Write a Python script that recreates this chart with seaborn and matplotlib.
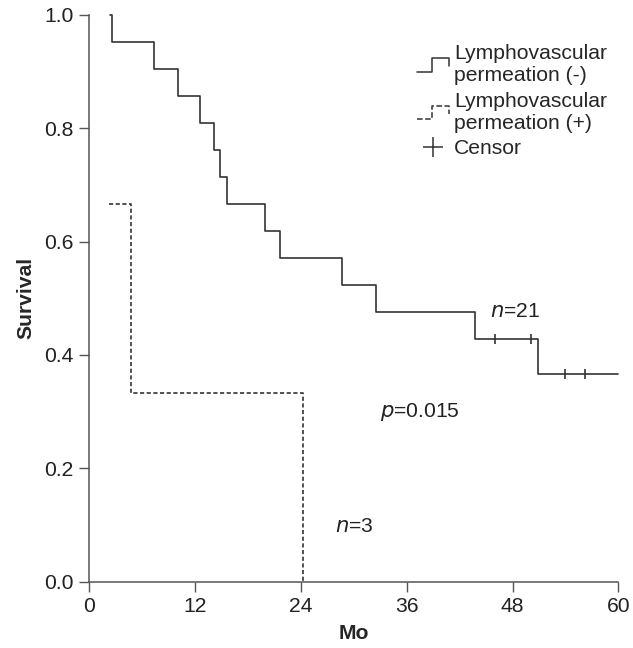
import numpy as np
import pandas as pd
import seaborn as sns
import matplotlib.pyplot as plt
from matplotlib.lines import Line2D
from matplotlib.legend_handler import HandlerBase

# %% data (months, survival)
neg_time = [2.4, 2.6, 7.4, 10.1, 12.6, 14.2, 14.9, 15.6, 19.9, 21.7, 28.7, 32.5, 43.7, 50.9, 60.0]
neg_surv = [1.0, 0.952, 0.905, 0.857, 0.810, 0.762, 0.714, 0.667, 0.619, 0.571, 0.524, 0.476, 0.429, 0.367, 0.367]
pos_time = [2.3, 4.8, 24.3]
pos_surv = [0.667, 0.333, 0.0]
cens_time = [46.0, 50.1, 53.9, 56.2]
cens_surv = [0.429, 0.429, 0.367, 0.367]
xticks = [0, 12, 24, 36, 48, 60]
yticks = [0.0, 0.2, 0.4, 0.6, 0.8, 1.0]

neg = pd.DataFrame({"Mo": neg_time, "Survival": neg_surv})
pos = pd.DataFrame({"Mo": pos_time, "Survival": pos_surv})
cens = pd.DataFrame({"Mo": cens_time, "Survival": cens_surv})

# %% style
sns.set_style("ticks")
plt.rcParams["font.family"] = ["Liberation Sans", "DejaVu Sans"]
LC = "#333333"
AC = "#555555"
FS = 15.2

fig, ax = plt.subplots(figsize=(6.33, 6.48), dpi=100)
fig.subplots_adjust(left=0.1406, right=0.977, bottom=0.1023, top=0.977)

sns.lineplot(data=neg, x="Mo", y="Survival", estimator=None, sort=False,
             drawstyle="steps-post", color=LC, lw=1.2, clip_on=False, ax=ax)
sns.lineplot(data=pos, x="Mo", y="Survival", estimator=None, sort=False,
             drawstyle="steps-post", color=LC, lw=1.2, ls=(0, (2.5, 1.5)),
             clip_on=False, ax=ax)
ax.plot(cens["Mo"], cens["Survival"], ls="none", marker="|", ms=7, mew=1.2, color=LC)

ax.set_xlim(0, 60)
ax.set_ylim(0, 1)
ax.set_xticks(xticks)
ax.set_yticks(yticks)
ax.set_yticklabels([f"{v:.1f}" for v in yticks])
ax.tick_params(labelsize=FS, length=7, width=1, color=AC, pad=4, labelcolor="#222222")
for s in ["left", "bottom"]:
    ax.spines[s].set_color(AC)
    ax.spines[s].set_linewidth(1.1)
sns.despine(ax=ax)
ax.set_xlabel("Mo", fontsize=FS, fontweight="bold", labelpad=6)
ax.set_ylabel("Survival", fontsize=FS, fontweight="bold", labelpad=6)

# %% annotations
ax.text(45.4, 0.476, r"$n$=21", fontsize=FS, va="center", ha="left",
        color="#222222", math_fontfamily="dejavusans")
ax.text(33.0, 0.30, r"$p$=0.015", fontsize=FS, va="center", ha="left",
        color="#222222", math_fontfamily="dejavusans")
ax.text(27.9, 0.097, r"$n$=3", fontsize=FS, va="center", ha="left",
        color="#222222", math_fontfamily="dejavusans")


# %% legend with step-shaped handles
class StepHandler(HandlerBase):
    def create_artists(self, legend, orig_handle, xdescent, ydescent,
                       width, height, fontsize, trans):
        x0 = -xdescent
        xm = x0 + 0.48 * width
        x1 = x0 + width
        y0 = -ydescent + 0.05 * height
        y1 = -ydescent + 0.95 * height
        line = Line2D([x0, xm, xm, x1, x1], [y0, y0, y1, y1, y0 + 0.35 * height],
                      color=orig_handle.get_color(), lw=1.1,
                      ls=orig_handle.get_linestyle())
        line.set_transform(trans)
        return [line]


h_neg = Line2D([], [], color=LC, ls="-")
h_pos = Line2D([], [], color=LC, ls=(0, (2.5, 1.5)))
h_cen = Line2D([], [], color=LC, ls="none", marker="+", ms=15, mew=1.1)
ax.legend([h_neg, h_pos, h_cen],
          ["Lymphovascular\npermeation (-)", "Lymphovascular\npermeation (+)", "Censor"],
          handler_map={h_neg: StepHandler(), h_pos: StepHandler()},
          loc="upper left", bbox_to_anchor=(0.62, 0.948), frameon=False,
          fontsize=FS, handlelength=1.5, handletextpad=0.25, labelspacing=0.3,
          borderpad=0, borderaxespad=0)

fig.savefig("out.png", dpi=100)
